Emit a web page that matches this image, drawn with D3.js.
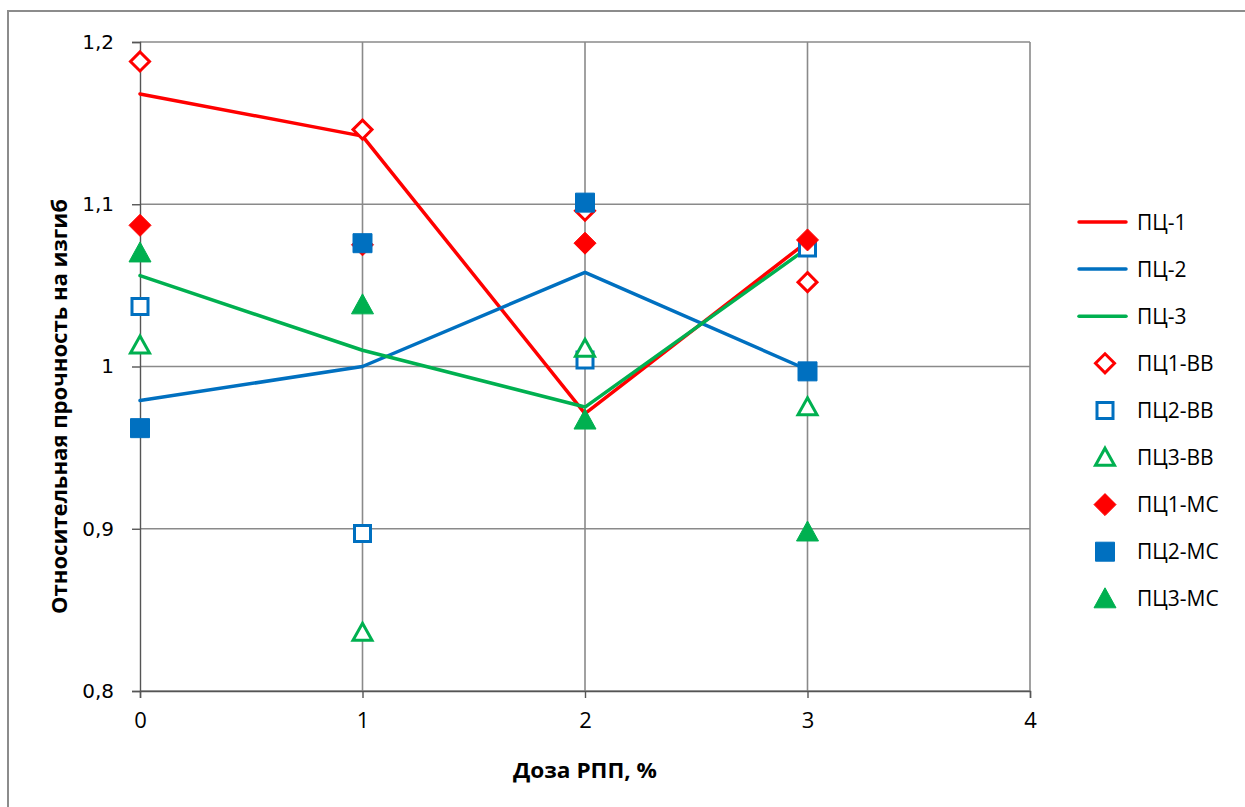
<!DOCTYPE html>
<html>
<head>
<meta charset="utf-8">
<script src="https://cdn.jsdelivr.net/npm/d3@7"></script>
<style>
html,body{margin:0;padding:0;background:#fff;}
svg{display:block;}
</style>
</head>
<body>
<svg id="chart" width="1245" height="807"></svg>
<script>
// ---- data ----
const doses = [0, 1, 2, 3];
const xTicks = [0, 1, 2, 3, 4];
const yTicks = [0.8, 0.9, 1.0, 1.1, 1.2];
const yTickLabels = ["0,8", "0,9", "1", "1,1", "1,2"];

// trend lines
const pc1Line = [1.168, 1.142, 0.971, 1.077];
const pc2Line = [0.979, 1.000, 1.058, 0.998];
const pc3Line = [1.056, 1.010, 0.975, 1.073];

// markers
const pc1VV = [1.188, 1.146, 1.096, 1.052];
const pc2VV = [1.037, 0.897, 1.004, 1.073];
const pc3VV = [1.013, 0.836, 1.011, 0.975];
const pc1MS = [1.087, 1.075, 1.076, 1.078];
const pc2MS = [0.962, 1.076, 1.101, 0.997];
const pc3MS = [1.070, 1.038, 0.967, 0.898];

const lineSeries = [
  {name: "ПЦ-1", values: pc1Line, color: "#FF0000"},
  {name: "ПЦ-2", values: pc2Line, color: "#0070C0"},
  {name: "ПЦ-3", values: pc3Line, color: "#00B050"}
];
const markerSeries = [
  {name: "ПЦ1-ВВ", values: pc1VV, color: "#FF0000", shape: "diamond", filled: false},
  {name: "ПЦ2-ВВ", values: pc2VV, color: "#0070C0", shape: "square", filled: false},
  {name: "ПЦ3-ВВ", values: pc3VV, color: "#00B050", shape: "triangle", filled: false},
  {name: "ПЦ1-МС", values: pc1MS, color: "#FF0000", shape: "diamond", filled: true},
  {name: "ПЦ2-МС", values: pc2MS, color: "#0070C0", shape: "square", filled: true},
  {name: "ПЦ3-МС", values: pc3MS, color: "#00B050", shape: "triangle", filled: true}
];

// ---- layout ----
const svg = d3.select("#chart");
const L = 140, R = 1030, T = 42, B = 691;
const x = d3.scaleLinear().domain([0, 4]).range([L, R]);
const y = d3.scaleLinear().domain([0.8, 1.2]).range([B, T]);

// outer frame
svg.append("path")
  .attr("d", "M8,820 L8,11 L1260,11")
  .attr("fill", "none").attr("stroke", "#8c8c8c").attr("stroke-width", 2);

// gridlines
const grid = svg.append("g");
grid.selectAll("line.h").data(yTicks).join("line")
  .attr("x1", L).attr("x2", R)
  .attr("y1", d => y(d)).attr("y2", d => y(d))
  .attr("stroke", "#8a8a8a").attr("stroke-width", 1.6);
grid.selectAll("line.v").data(xTicks.slice(1)).join("line")
  .attr("x1", d => x(d)).attr("x2", d => x(d))
  .attr("y1", T).attr("y2", B)
  .attr("stroke", "#8a8a8a").attr("stroke-width", 1.6);

// axes
const yAxis = d3.axisLeft(y).tickValues(yTicks)
  .tickFormat((d, i) => yTickLabels[i]).tickSize(8).tickPadding(18);
const gy = svg.append("g").attr("transform", `translate(${L},0)`).call(yAxis);
gy.select(".domain").attr("stroke", "#555").attr("stroke-width", 1.4);
gy.selectAll(".tick line").attr("stroke", "#555").attr("stroke-width", 1.4);
gy.selectAll(".tick text").attr("font-family", "DejaVu Sans").attr("font-size", 20).attr("fill", "#000");

const xAxis = d3.axisBottom(x).tickValues(xTicks).tickFormat(d3.format("d")).tickSize(7).tickPadding(14);
const gx = svg.append("g").attr("transform", `translate(0,${B})`).call(xAxis);
gx.select(".domain").attr("stroke", "#555").attr("stroke-width", 1.4);
gx.selectAll(".tick line").attr("stroke", "#555").attr("stroke-width", 1.4);
gx.selectAll(".tick text").attr("font-family", "Open Sans").attr("font-size", 22).attr("fill", "#000");

// axis titles
svg.append("text")
  .attr("x", x(2)).attr("y", 778)
  .attr("text-anchor", "middle")
  .attr("font-family", "Open Sans").attr("font-weight", "bold").attr("font-size", 22)
  .attr("textLength", 144).attr("lengthAdjust", "spacingAndGlyphs")
  .text("Доза РПП, %");

svg.append("text")
  .attr("transform", `translate(67,${(T + B) / 2 + 40}) rotate(-90)`)
  .attr("text-anchor", "middle")
  .attr("font-family", "Open Sans").attr("font-weight", "bold").attr("font-size", 22)
  .attr("textLength", 415).attr("lengthAdjust", "spacingAndGlyphs")
  .text("Относительная прочность на изгиб");

// lines
const lineGen = d3.line().x((d, i) => x(doses[i])).y(d => y(d));
svg.append("g").selectAll("path").data(lineSeries).join("path")
  .attr("d", d => lineGen(d.values))
  .attr("fill", "none").attr("stroke", d => d.color).attr("stroke-width", 3.5)
  .attr("stroke-linejoin", "round").attr("stroke-linecap", "round");

// marker shapes
function shapePath(shape, filled) {
  if (shape === "diamond") {
    const r = filled ? 11 : 9.5;
    return `M0,${-r}L${r},0L0,${r}L${-r},0Z`;
  }
  if (shape === "square") {
    const r = filled ? 9.5 : 8;
    return `M${-r},${-r}H${r}V${r}H${-r}Z`;
  }
  // triangle
  const w = filled ? 11 : 9.5, h = filled ? 20 : 17;
  return `M0,${-h * 0.55}L${w},${h * 0.45}L${-w},${h * 0.45}Z`;
}

const mg = svg.append("g");
markerSeries.forEach(s => {
  mg.append("g").selectAll("path").data(s.values).join("path")
    .attr("transform", (d, i) => `translate(${x(doses[i])},${y(d)})`)
    .attr("d", shapePath(s.shape, s.filled))
    .attr("fill", s.filled ? s.color : "#fff")
    .attr("stroke", s.color)
    .attr("stroke-width", s.filled ? 1 : 3)
    .attr("stroke-linejoin", s.filled ? "round" : "miter");
});

// legend
const lg = svg.append("g");
const legendItems = lineSeries.map(s => ({...s, type: "line"}))
  .concat(markerSeries.map(s => ({...s, type: "marker"})));
const ly0 = 222, lstep = 47.1;
legendItems.forEach((s, i) => {
  const cy = ly0 + i * lstep;
  if (s.type === "line") {
    lg.append("line").attr("x1", 1079).attr("x2", 1126).attr("y1", cy).attr("y2", cy)
      .attr("stroke", s.color).attr("stroke-width", 3.5).attr("stroke-linecap", "round");
  } else {
    lg.append("path").attr("transform", `translate(1105,${cy})`)
      .attr("d", shapePath(s.shape, s.filled))
      .attr("fill", s.filled ? s.color : "#fff")
      .attr("stroke", s.color).attr("stroke-width", s.filled ? 1 : 3);
  }
  lg.append("text").attr("x", 1137).attr("y", cy).attr("dy", "0.36em")
    .attr("font-family", "Open Sans").attr("font-size", 21).attr("fill", "#000")
    .text(s.name);
});
</script>
</body>
</html>
